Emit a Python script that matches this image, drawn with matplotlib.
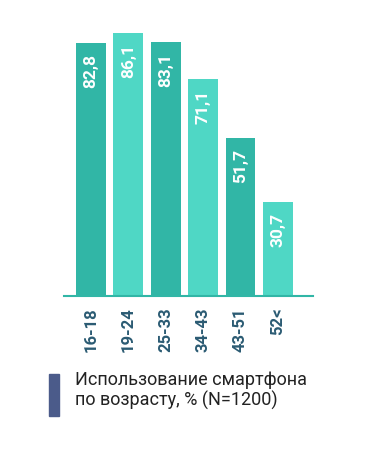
import matplotlib
matplotlib.use("Agg")
import matplotlib.pyplot as plt
from matplotlib.patches import Rectangle

categories = ["16-18", "19-24", "25-33", "34-43", "43-51", "52<"]
values = [82.8, 86.1, 83.1, 71.1, 51.7, 30.7]
value_labels = ["82,8", "86,1", "83,1", "71,1", "51,7", "30,7"]
legend_text = "Использование смартфона\nпо возрасту, % (N=1200)"

dark = "#31b6a6"
light = "#4fd7c5"
colors = [dark if i % 2 == 0 else light for i in range(len(values))]

fig = plt.figure(figsize=(3.88, 4.73), dpi=100)
W, H = 388, 473
ax = fig.add_axes([64 / W, 1 - 296 / H, (313 - 64) / W, (296 - 20) / H])
x = list(range(len(values)))
ax.bar(x, values, width=0.8, color=colors)
ax.set_xlim(-0.72, 5.94)
ax.set_ylim(0, 276 / 3.055)
for s in ["top", "right", "left"]:
    ax.spines[s].set_visible(False)
ax.spines["bottom"].set_color(dark)
ax.spines["bottom"].set_linewidth(1.5)
ax.set_yticks([])
ax.set_xticks(x)
ax.set_xticklabels(categories, rotation=90, fontsize=12, fontweight="bold",
                   color="#2b5b73", family="Roboto")
ax.tick_params(axis="x", length=0, pad=8)
for xi, v, lab in zip(x, values, value_labels):
    ax.text(xi, v - 3.5, lab, rotation=90, ha="center", va="top", color="white",
            fontsize=12.5, fontweight="bold", family="Roboto")

fig.patches.append(Rectangle((49 / W, 1 - 416 / H), 10 / W, 42 / H,
                             transform=fig.transFigure, color="#4b5b8a"))
fig.text(75 / W, 1 - 371 / H, legend_text, ha="left", va="top", fontsize=13,
         color="#222222", family="Roboto", linespacing=1.15)

fig.savefig("out.png", dpi=100)
